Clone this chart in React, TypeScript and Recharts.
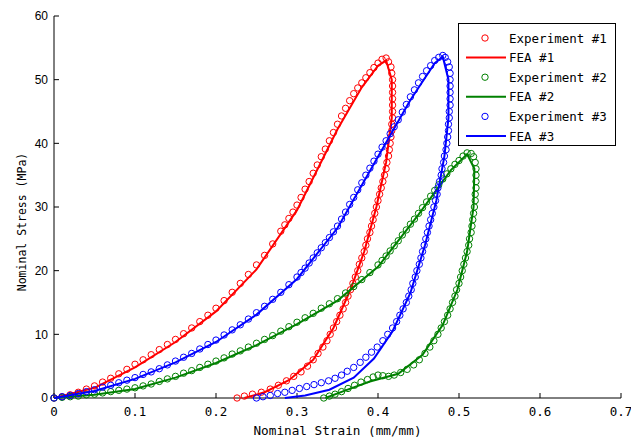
import { ScatterChart, Scatter, XAxis, YAxis } from "recharts";

// strain (mm/mm), stress (MPa), in loop order
const exp1: [number, number][] = [
  [0, 0], [0.01, 0.2], [0.02, 0.5], [0.03, 0.9], [0.04, 1.4], [0.05, 1.9], [0.06, 2.5], [0.07, 3.1],
  [0.08, 3.8], [0.09, 4.5], [0.1, 5.3], [0.11, 6.0], [0.12, 6.8], [0.13, 7.6], [0.14, 8.4], [0.15, 9.2],
  [0.16, 10.1], [0.17, 11.0], [0.18, 12.0], [0.19, 13.0], [0.2, 14.1], [0.21, 15.3], [0.22, 16.6],
  [0.23, 18.0], [0.24, 19.4], [0.25, 20.9], [0.26, 22.4], [0.27, 24.2], [0.28, 26.2], [0.285, 27.2],
  [0.29, 28.2], [0.295, 29.2], [0.3, 30.3], [0.305, 31.5], [0.31, 32.8], [0.315, 34.0], [0.32, 35.3],
  [0.325, 36.6], [0.33, 37.9], [0.335, 39.1], [0.34, 40.4], [0.345, 41.7], [0.35, 43.0], [0.355, 44.3],
  [0.36, 45.5], [0.365, 46.7], [0.37, 47.8], [0.375, 48.7], [0.38, 49.5], [0.385, 50.3], [0.39, 51.1],
  [0.395, 51.9], [0.4, 52.6], [0.405, 53.2], [0.41, 53.4],
  [0.413, 52.8], [0.416, 52.0], [0.417, 51.0], [0.418, 50.0], [0.418, 49.0], [0.418, 48.0], [0.418, 47.0],
  [0.418, 46.0], [0.418, 45.0], [0.418, 44.0], [0.417, 43.0], [0.417, 42.0], [0.416, 41.0], [0.415, 40.0],
  [0.414, 39.0], [0.413, 38.0], [0.411, 37.0], [0.41, 36.0], [0.408, 35.0], [0.406, 34.0], [0.404, 33.0],
  [0.402, 32.0], [0.4, 31.0], [0.398, 30.0], [0.396, 29.0], [0.394, 28.0], [0.392, 27.0], [0.39, 26.0],
  [0.387, 25.0], [0.385, 24.0], [0.383, 23.0], [0.38, 22.0], [0.377, 21.0], [0.375, 20.0], [0.372, 19.0],
  [0.369, 18.0], [0.366, 17.0], [0.363, 16.0], [0.36, 15.0], [0.357, 14.0], [0.353, 13.0], [0.349, 12.0],
  [0.345, 11.0], [0.341, 10.0], [0.337, 9.0], [0.332, 8.0], [0.326, 7.0], [0.32, 6.0], [0.313, 5.0],
  [0.305, 4.1], [0.296, 3.4], [0.287, 2.7], [0.277, 2.0], [0.267, 1.4], [0.256, 0.9], [0.245, 0.6],
  [0.235, 0.3], [0.226, 0.0],
];

const fea1: [number, number][] = [
  [0, 0], [0.05, 1.6], [0.1, 4.8], [0.15, 8.8], [0.2, 13.6], [0.25, 20.2], [0.3, 29.5], [0.35, 42.2],
  [0.38, 48.8], [0.4, 52.2], [0.41, 53.0], [0.417, 50.0], [0.417, 44.0], [0.41, 37.0], [0.398, 30.0],
  [0.383, 23.0], [0.366, 17.0], [0.345, 11.0], [0.32, 6.0], [0.29, 2.8], [0.26, 0.9], [0.235, 0],
];

const exp2: [number, number][] = [
  [0, 0], [0.01, 0.1], [0.02, 0.2], [0.03, 0.3], [0.04, 0.5], [0.05, 0.6], [0.06, 0.8], [0.07, 1.0],
  [0.08, 1.2], [0.09, 1.4], [0.1, 1.6], [0.11, 1.9], [0.12, 2.2], [0.13, 2.6], [0.14, 3.0], [0.15, 3.4],
  [0.16, 3.9], [0.17, 4.3], [0.18, 4.8], [0.19, 5.3], [0.2, 5.8], [0.21, 6.3], [0.22, 6.9], [0.23, 7.4],
  [0.24, 8.0], [0.25, 8.6], [0.26, 9.2], [0.27, 9.8], [0.28, 10.5], [0.29, 11.2], [0.3, 11.9], [0.31, 12.6],
  [0.32, 13.3], [0.33, 14.1], [0.34, 14.8], [0.35, 15.6], [0.36, 16.5], [0.37, 17.5], [0.38, 18.6],
  [0.39, 19.7], [0.4, 20.9], [0.405, 21.6], [0.41, 22.3], [0.415, 23.1], [0.42, 23.9], [0.425, 24.7],
  [0.43, 25.6], [0.435, 26.4], [0.44, 27.3], [0.445, 28.1], [0.45, 29.0], [0.455, 29.9], [0.46, 30.8],
  [0.465, 31.7], [0.47, 32.6], [0.475, 33.5], [0.48, 34.4], [0.485, 35.2], [0.49, 36.0], [0.495, 36.7],
  [0.5, 37.3], [0.505, 38.0], [0.51, 38.5], [0.515, 38.4],
  [0.518, 37.9], [0.52, 37.0], [0.521, 36.0], [0.521, 35.0], [0.521, 34.0], [0.521, 33.0], [0.52, 32.0],
  [0.52, 31.0], [0.519, 30.0], [0.518, 29.0], [0.517, 28.0], [0.516, 27.0], [0.515, 26.0], [0.513, 25.0],
  [0.512, 24.0], [0.51, 23.0], [0.508, 22.0], [0.506, 21.0], [0.504, 20.0], [0.502, 19.0], [0.5, 18.0],
  [0.497, 17.0], [0.495, 16.0], [0.492, 15.0], [0.489, 14.0], [0.486, 13.0], [0.482, 12.0], [0.478, 11.0],
  [0.474, 10.0], [0.469, 9.0], [0.464, 8.0], [0.458, 7.0], [0.451, 6.0], [0.444, 5.2], [0.436, 4.5],
  [0.428, 4.0], [0.42, 3.6], [0.413, 3.4], [0.406, 3.5], [0.4, 3.6], [0.394, 3.3], [0.387, 2.9],
  [0.379, 2.5], [0.371, 2.0], [0.363, 1.5], [0.355, 1.0], [0.347, 0.6], [0.34, 0.3], [0.333, 0.0],
];

const fea2: [number, number][] = [
  [0, 0], [0.05, 0.5], [0.1, 1.4], [0.15, 3.2], [0.2, 5.5], [0.25, 8.3], [0.3, 11.6], [0.35, 15.3],
  [0.4, 20.6], [0.45, 28.8], [0.49, 35.8], [0.51, 38.3], [0.519, 36.0], [0.518, 30.0], [0.51, 23.0],
  [0.498, 17.0], [0.48, 11.5], [0.455, 6.8], [0.425, 3.8], [0.39, 2.6], [0.36, 1.2], [0.335, 0],
];

const exp3: [number, number][] = [
  [0, 0], [0.01, 0.2], [0.02, 0.4], [0.03, 0.7], [0.04, 1.0], [0.05, 1.3], [0.06, 1.7], [0.07, 2.0],
  [0.08, 2.4], [0.09, 2.8], [0.1, 3.2], [0.11, 3.7], [0.12, 4.1], [0.13, 4.6], [0.14, 5.2], [0.15, 5.8],
  [0.16, 6.4], [0.17, 7.0], [0.18, 7.7], [0.19, 8.4], [0.2, 9.1], [0.21, 9.9], [0.22, 10.7], [0.23, 11.5],
  [0.24, 12.4], [0.25, 13.4], [0.26, 14.4], [0.27, 15.5], [0.28, 16.6], [0.29, 17.8], [0.3, 19.0],
  [0.305, 19.7], [0.31, 20.4], [0.315, 21.2], [0.32, 22.0], [0.325, 22.8], [0.33, 23.6], [0.335, 24.4],
  [0.34, 25.2], [0.345, 26.1], [0.35, 27.0], [0.355, 28.1], [0.36, 29.2], [0.365, 30.4], [0.37, 31.5],
  [0.375, 32.7], [0.38, 33.8], [0.385, 35.0], [0.39, 36.1], [0.395, 37.2], [0.4, 38.3], [0.405, 39.4],
  [0.41, 40.4], [0.415, 41.5], [0.42, 42.6], [0.425, 43.7], [0.43, 44.9], [0.435, 46.1], [0.44, 47.3],
  [0.445, 48.4], [0.45, 49.5], [0.455, 50.5], [0.46, 51.4], [0.465, 52.2], [0.47, 53.0], [0.475, 53.5],
  [0.48, 53.8],
  [0.483, 53.5], [0.486, 52.8], [0.488, 52.0], [0.489, 51.0], [0.489, 50.0], [0.489, 49.0], [0.489, 48.0],
  [0.489, 47.0], [0.489, 46.0], [0.488, 45.0], [0.488, 44.0], [0.487, 43.0], [0.487, 42.0], [0.486, 41.0],
  [0.485, 40.0], [0.484, 39.0], [0.482, 38.0], [0.481, 37.0], [0.479, 36.0], [0.478, 35.0], [0.476, 34.0],
  [0.474, 33.0], [0.473, 32.0], [0.471, 31.0], [0.469, 30.0], [0.467, 29.0], [0.465, 28.0], [0.463, 27.0],
  [0.461, 26.0], [0.459, 25.0], [0.457, 24.0], [0.455, 23.0], [0.453, 22.0], [0.451, 21.0], [0.448, 20.0],
  [0.446, 19.0], [0.443, 18.0], [0.441, 17.0], [0.438, 16.0], [0.435, 15.0], [0.431, 14.0], [0.427, 13.0],
  [0.423, 12.0], [0.418, 11.0], [0.412, 10.0], [0.406, 9.0], [0.399, 8.0], [0.392, 7.2], [0.385, 6.4],
  [0.378, 5.6], [0.37, 4.8], [0.362, 4.2], [0.355, 3.6], [0.347, 3.1], [0.339, 2.7], [0.33, 2.4],
  [0.321, 2.1], [0.312, 1.8], [0.303, 1.5], [0.294, 1.2], [0.285, 0.9], [0.276, 0.7], [0.267, 0.4],
  [0.258, 0.2], [0.25, 0.0],
];

const fea3: [number, number][] = [
  [0, 0], [0.05, 1.1], [0.1, 3.0], [0.15, 5.6], [0.2, 8.8], [0.25, 13.1], [0.3, 18.7], [0.35, 26.7],
  [0.4, 37.9], [0.44, 46.8], [0.47, 52.6], [0.48, 53.6], [0.487, 50.0], [0.487, 44.0], [0.482, 38.0],
  [0.472, 31.0], [0.458, 24.0], [0.44, 16.5], [0.418, 10.5], [0.395, 6.2], [0.37, 3.2], [0.34, 1.3],
  [0.31, 0.4], [0.285, 0],
];

const xTicks = [0, 0.1, 0.2, 0.3, 0.4, 0.5, 0.6, 0.7];
const yTicks = [0, 10, 20, 30, 40, 50, 60];

const RED = "#ff0000";
const GREEN = "#008000";
const BLUE = "#0000ff";

const legendItems = [
  { label: "Experiment #1", color: RED, kind: "marker" },
  { label: "FEA #1", color: RED, kind: "line" },
  { label: "Experiment #2", color: GREEN, kind: "marker" },
  { label: "FEA #2", color: GREEN, kind: "line" },
  { label: "Experiment #3", color: BLUE, kind: "marker" },
  { label: "FEA #3", color: BLUE, kind: "line" },
];

const toPoints = (arr: [number, number][]) => arr.map(([x, y]) => ({ x, y }));

const ring = (color: string) => (p: any) =>
  <circle cx={p.cx} cy={p.cy} r={3.2} fill="none" stroke={color} strokeWidth={1} />;

const noDot = () => <g />;

const MONO = "'DejaVu Sans Mono', monospace";

function LegendBox() {
  return (
    <svg width={160} height={125} style={{ position: "absolute", left: 458, top: 23 }}>
      <rect x={0.5} y={0.5} width={157} height={122} fill="#fff" stroke="#000" strokeWidth={1} />
      {legendItems.map((it, i) => {
        const cy = 15 + i * 19.6;
        return (
          <g key={it.label}>
            {it.kind === "marker" ? (
              <circle cx={27} cy={cy} r={3.2} fill="none" stroke={it.color} strokeWidth={1} />
            ) : (
              <line x1={8} x2={48} y1={cy} y2={cy} stroke={it.color} strokeWidth={2} />
            )}
            <text x={51} y={cy} dominantBaseline="central" fontFamily={MONO} fontSize={12.5} fill="#000">
              {it.label}
            </text>
          </g>
        );
      })}
    </svg>
  );
}

export default function App() {
  return (
    <div style={{ position: "absolute", left: 0, top: 0, width: 631, height: 440, background: "#fff" }}>
      <ScatterChart width={631} height={440} margin={{ top: 16, right: 10, bottom: 0, left: 0 }}>
        <XAxis
          type="number"
          dataKey="x"
          domain={[0, 0.7]}
          ticks={xTicks}
          height={42}
          tickSize={-5}
          tickMargin={14}
          stroke="#000"
          tick={{ fill: "#000", fontSize: 12.5, fontFamily: MONO }}
          tickFormatter={(v: number) => String(v)}
          label={{ value: "Nominal Strain (mm/mm)", position: "insideBottom", offset: 5, fill: "#000", fontSize: 12.7, fontFamily: MONO }}
        />
        <YAxis
          type="number"
          dataKey="y"
          domain={[0, 60]}
          ticks={yTicks}
          width={54}
          tickSize={-5}
          tickMargin={11}
          stroke="#000"
          tick={{ fill: "#000", fontSize: 12, fontFamily: "'Liberation Sans', Arial, sans-serif" }}
          label={() => (
            <text
              x={22}
              y={222}
              transform="rotate(-90 22 222)"
              textAnchor="middle"
              dominantBaseline="central"
              fontFamily={MONO}
              fontSize={11.5}
              fill="#000"
            >
              Nominal Stress (MPa)
            </text>
          )}
        />
        <Scatter data={toPoints(exp1)} shape={ring(RED)} isAnimationActive={false} />
        <Scatter data={toPoints(fea1)} shape={noDot} line={{ stroke: RED, strokeWidth: 2 }} lineType="joint" isAnimationActive={false} />
        <Scatter data={toPoints(exp2)} shape={ring(GREEN)} isAnimationActive={false} />
        <Scatter data={toPoints(fea2)} shape={noDot} line={{ stroke: GREEN, strokeWidth: 2 }} lineType="joint" isAnimationActive={false} />
        <Scatter data={toPoints(exp3)} shape={ring(BLUE)} isAnimationActive={false} />
        <Scatter data={toPoints(fea3)} shape={noDot} line={{ stroke: BLUE, strokeWidth: 2 }} lineType="joint" isAnimationActive={false} />
      </ScatterChart>
      <LegendBox />
    </div>
  );
}
